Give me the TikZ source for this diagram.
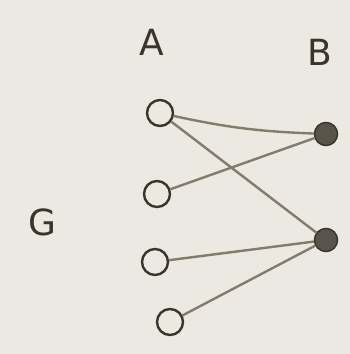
\documentclass[tikz,border=0pt]{standalone}
\usepackage{fontspec}
\setmainfont{DejaVu Sans}
\definecolor{paper}{HTML}{ECE9E2}
\definecolor{ink}{HTML}{3A342D}
\definecolor{edgec}{HTML}{847B6C}
\definecolor{fillc}{HTML}{5A534A}
\begin{document}
\begin{tikzpicture}[x=1pt,y=-1pt,
  avert/.style={circle,draw=ink,line width=2.4pt,minimum size=26pt,inner sep=0pt},
  bvert/.style={circle,draw=ink,fill=fillc,line width=1.5pt,minimum size=23pt,inner sep=0pt},
  link/.style={draw=edgec,line width=2.4pt},
  lbl/.style={text=ink,font=\fontsize{36}{36}\selectfont}]
\fill[paper] (0,0) rectangle (350,354);
\useasboundingbox (0,0) rectangle (350,354);
\node[lbl] (la) at (152,42) {A};
\node[lbl] (lb) at (320,52) {B};
\node[lbl] (lg) at (42,222) {G};
\node[avert] (a1) at (160,113) {};
\node[avert] (a2) at (157,194) {};
\node[avert] (a3) at (155,262) {};
\node[avert] (a4) at (170,322) {};
\node[bvert] (b1) at (326,134) {};
\node[bvert] (b2) at (326,240) {};
\draw[link] (a1) to[bend right=5] (b1);
\draw[link] (a1) -- (b2);
\draw[link] (a2) -- (b1);
\draw[link] (a3) -- (b2);
\draw[link] (a4) -- (b2);
\end{tikzpicture}
\end{document}
